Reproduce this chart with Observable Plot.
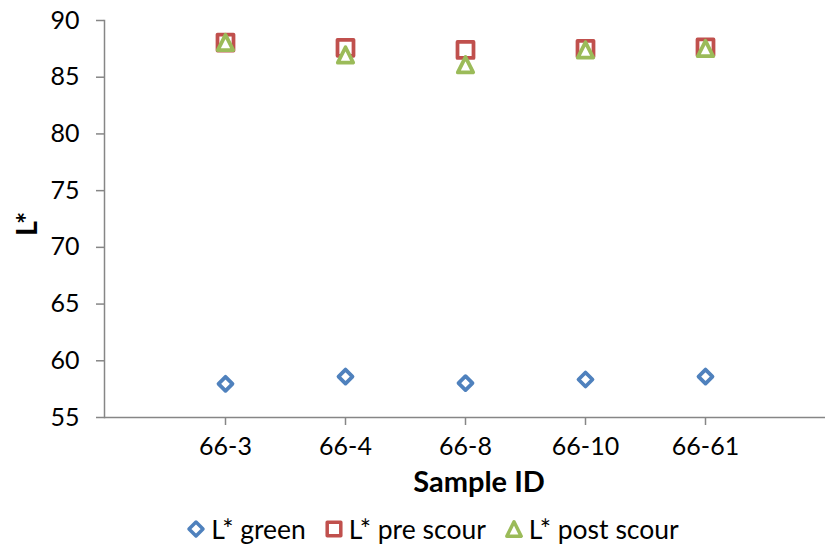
<!DOCTYPE html>
<html>
<head>
<meta charset="utf-8">
<script src="https://cdn.jsdelivr.net/npm/d3@7"></script>
<script src="https://cdn.jsdelivr.net/npm/@observablehq/plot@0.6"></script>
<style>
  html, body { margin: 0; padding: 0; background: #fff; }
  body { width: 825px; height: 550px; overflow: hidden; font-family: Lato, "Open Sans", sans-serif; }
  #legend { display: flex; justify-content: center; align-items: center; height: 50px; margin-left: 40px; margin-top: 4px; font-size: 26.5px; color: #000; }
  #legend .item { display: flex; align-items: center; margin: 0 9px; }
  #legend svg { margin-right: 5px; }
</style>
</head>
<body>
<div id="chart"></div>
<div id="legend"></div>
<script>
const samples = ["66-3", "66-4", "66-8", "66-10", "66-61"];
const lGreen = [57.97, 58.61, 58.03, 58.35, 58.61];
const lPre = [88.06, 87.59, 87.41, 87.50, 87.62];
const lPost = [88.06, 86.96, 86.10, 87.40, 87.53];
const yTicks = [55, 60, 65, 70, 75, 80, 85, 90];
const seriesNames = ["L* green", "L* pre scour", "L* post scour"];
const colors = ["#4F81BD", "#C0504D", "#9BBB59"];

const diamond = {draw(ctx, size) { const r = Math.sqrt(size / Math.PI); ctx.moveTo(0, -r); ctx.lineTo(r, 0); ctx.lineTo(0, r); ctx.lineTo(-r, 0); ctx.closePath(); }};
const square = {draw(ctx, size) { const r = Math.sqrt(size / Math.PI); ctx.moveTo(-r, -r); ctx.lineTo(r, -r); ctx.lineTo(r, r); ctx.lineTo(-r, r); ctx.closePath(); }};
const triangle = {draw(ctx, size) { const r = Math.sqrt(size / Math.PI); ctx.moveTo(0, -r); ctx.lineTo(r, r); ctx.lineTo(-r, r); ctx.closePath(); }};
const symbols = [diamond, square, triangle];
const radii = [7, 8, 7.7];

const series = [lGreen, lPre, lPost].map((vals, i) => samples.map((s, j) => ({sample: s, value: vals[j], series: seriesNames[i]})));

const axisGray = "#868686";
const sw = 3.75;

const chart = Plot.plot({
  width: 825,
  height: 500,
  marginLeft: 104,
  marginRight: 0,
  marginTop: 20,
  marginBottom: 83,
  style: {fontFamily: "Lato, 'Open Sans', sans-serif", color: "#000", background: "#fff"},
  x: {type: "point", domain: samples, padding: 1, label: null},
  y: {domain: [55, 90], label: null},
  marks: [
    Plot.ruleY([55], {stroke: axisGray, strokeWidth: 1.5}),
    Plot.frame({anchor: "left", stroke: axisGray, strokeWidth: 1.5}),
    Plot.axisY({ticks: yTicks, tickSize: 8, tickPadding: 17, stroke: axisGray, strokeWidth: 1.5, fill: "#000", fontSize: 25, label: null}),
    Plot.axisX({tickSize: 8, tickPadding: 12, stroke: axisGray, strokeWidth: 1.5, fill: "#000", fontSize: 25, label: null}),
    ...series.map((d, i) => Plot.dot(d, {x: "sample", y: "value", symbol: symbols[i], r: radii[i], stroke: colors[i], strokeWidth: sw, fill: "#fff", strokeLinejoin: "round"})),
    Plot.text(["L*"], {frameAnchor: "left", dx: -77, dy: 17, rotate: -90, fontSize: 29, fontWeight: "bold", fill: "#000"}),
    Plot.text(["Sample ID"], {frameAnchor: "bottom", dx: 14, dy: 74, fontSize: 29, fontWeight: "bold", fill: "#000"})
  ]
});
document.getElementById("chart").appendChild(chart);

const legend = d3.select("#legend");
const pathFns = [
  r => `M0,${-r}L${r},0L0,${r}L${-r},0Z`,
  r => `M${-r},${-r}L${r},${-r}L${r},${r}L${-r},${r}Z`,
  r => `M0,${-r}L${r},${r}L${-r},${r}Z`
];
seriesNames.forEach((name, i) => {
  const item = legend.append("div").attr("class", "item");
  const svg = item.append("svg").attr("width", 20).attr("height", 20).attr("viewBox", "-10 -10 20 20");
  svg.append("path").attr("d", pathFns[i]([7, 6.8, 7.2][i])).attr("fill", "#fff").attr("stroke", colors[i]).attr("stroke-width", 3.5).attr("stroke-linejoin", "round");
  item.append("span").text(name);
});
</script>
</body>
</html>
